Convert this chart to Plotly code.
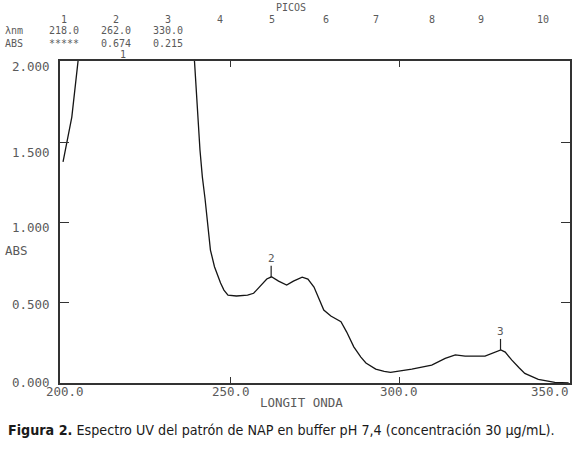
import numpy as np
import plotly.graph_objects as go

# spectrum (nm, ABS); values above 2.000 run off the top
wavelength = [200.3, 202.9, 204.7, 206.0, 215.0, 230.0, 238.5, 239.3, 240.9, 241.6, 242.4, 243.0,
              244.0, 245.2, 246.1, 247.0, 248.0, 249.2, 251.7, 255.0, 256.8, 258.9, 260.7, 262.1,
              264.2, 266.6, 268.6, 271.2, 272.9, 274.7, 276.1, 277.6, 279.7, 282.7, 284.4, 286.5,
              288.6, 290.1, 293.0, 295.5, 297.4, 300.5, 303.7, 309.6, 313.6, 316.6, 319.5, 325.4,
              328.4, 330.1, 331.4, 333.3, 335.5, 337.2, 341.2, 343.5, 346.1, 350.2]
absorbance = [1.38, 1.66, 2.0, 2.25, 2.8, 2.8, 2.2, 2.0, 1.454, 1.287, 1.15, 1.037,
              0.83, 0.726, 0.67, 0.624, 0.58, 0.549, 0.543, 0.549, 0.56, 0.611, 0.649, 0.663,
              0.636, 0.611, 0.636, 0.661, 0.649, 0.599, 0.53, 0.455, 0.418, 0.382, 0.318, 0.226,
              0.162, 0.125, 0.087, 0.072, 0.066, 0.075, 0.087, 0.112, 0.154, 0.175, 0.168, 0.168,
              0.19, 0.206, 0.193, 0.144, 0.095, 0.06, 0.023, 0.012, 0.004, 0.0]

# peak table printed above the chart
peak_no = [1, 2, 3]
peak_nm = [218.0, 262.0, 330.0]
peak_abs = ["*****", "0.674", "0.215"]
picos_cols = list(range(1, 11))

y_ticks = [0.0, 0.5, 1.0, 1.5, 2.0]
x_ticks = [200.0, 250.0, 300.0, 350.0]

mono = "DejaVu Sans Mono"
gray = "#5a5a5a"
hdr = dict(family=mono, size=10, color=gray)
lab = dict(family=mono, size=12.5, color=gray)

L, T, W, H = 60, 61, 512, 322   # plot box in pixels


def px_x(p):
    return (p - L) / W


def px_y(p):
    return (T + H - p) / H


def note(x, y, text, xa="center", ya="middle", font=lab, **kw):
    fig.add_annotation(x=x, y=y, text=text, xanchor=xa, yanchor=ya, showarrow=False,
                       borderpad=0, font=font, **kw)


fig = go.Figure()
fig.add_trace(go.Scatter(x=wavelength, y=absorbance, mode="lines",
                         line=dict(color="#151515", width=1.3), hoverinfo="skip"))

# little peak flags for peaks 2 and 3 (peak 1 is off scale)
for n, nm in zip(peak_no[1:], peak_nm[1:]):
    y0 = float(np.interp(nm, wavelength, absorbance))
    fig.add_trace(go.Scatter(x=[nm, nm], y=[y0, y0 + 0.07], mode="lines",
                             line=dict(color="#222222", width=1.2), hoverinfo="skip"))
    note(nm, y0 + 0.07, str(n), ya="bottom", font=dict(family=mono, size=11, color=gray))
note(peak_nm[0], 2.01, str(peak_no[0]), ya="bottom", font=dict(family=mono, size=10, color=gray))

# header
col_x = [64, 116, 168, 221, 273, 327, 377, 433, 483, 545]
note(px_x(292), px_y(7.5), "PICOS", xref="paper", yref="paper", font=hdr)
for c, p in zip(picos_cols, col_x):
    note(px_x(p), px_y(19), str(c), xref="paper", yref="paper", font=hdr)
note(px_x(4), px_y(31), "λnm", xa="left", xref="paper", yref="paper", font=hdr)
note(px_x(4), px_y(43), "ABS", xa="left", xref="paper", yref="paper", font=hdr)
for p, nm, a in zip(col_x[:3], peak_nm, peak_abs):
    note(px_x(p), px_y(31), f"{nm:.1f}", xref="paper", yref="paper", font=hdr)
    note(px_x(p), px_y(43), a, xref="paper", yref="paper", font=hdr)

# axis labels, placed like the printer did
lab_shift = [1, -2, -5, -10, -4]
for v, s in zip(y_ticks, lab_shift):
    note(px_x(51), v, f"{v:.3f}", xa="right", xref="paper", yshift=s)
note(px_x(4), 0.83, "ABS", xa="left", xref="paper")
lab_xshift = [3, 0, 0, -18]
for v, s in zip(x_ticks, lab_xshift):
    note(v, px_y(391), f"{v:.1f}", yref="paper", xshift=s)
note(px_x(302), px_y(403), "LONGIT ONDA", xref="paper", yref="paper")

note(px_x(7), px_y(430), "<b>Figura 2.</b> Espectro UV del patrón de NAP en buffer pH 7,4 "
     "(concentración 30 μg/mL).", xa="left", xref="paper", yref="paper",
     font=dict(family="DejaVu Sans Condensed, Liberation Sans", size=14.2, color="#1a1a1a"))

fig.update_xaxes(range=[199.4, 350.6], tickvals=x_ticks[1:3], ticks="inside", ticklen=6,
                 tickcolor="#333333", showticklabels=False, showgrid=False, zeroline=False,
                 showline=True, linecolor="#333333", linewidth=1.6, mirror="ticks")
fig.update_yaxes(range=[0, 2.01], tickvals=y_ticks[1:4], ticks="inside", ticklen=9,
                 tickcolor="#333333", showticklabels=False, showgrid=False, zeroline=False,
                 showline=True, linecolor="#333333", linewidth=1.6, mirror="ticks")
fig.update_layout(width=580, height=451, margin=dict(l=L, r=580 - L - W, t=T, b=451 - T - H),
                  plot_bgcolor="white", paper_bgcolor="white", showlegend=False)
fig.write_html("out.html", config={"displayModeBar": False},
               post_script="document.body.style.margin='0';")
